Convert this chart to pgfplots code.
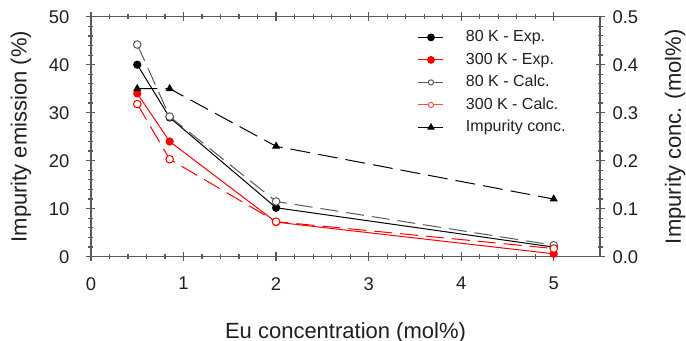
\documentclass[border=0pt]{standalone}
\usepackage{fontspec}
\setmainfont{Liberation Sans}
\usepackage{pgfplots}
\pgfplotsset{compat=1.18}
\definecolor{axgray}{gray}{0.35}
\definecolor{calcgray}{gray}{0.35}
\definecolor{txt}{gray}{0.12}
\begin{document}
\begin{tikzpicture}
\useasboundingbox (-45.5pt,-42.15pt) rectangle (297.5pt,128.35pt);
\pgfplotsset{
 common/.style={
  scale only axis, width=254.5pt, height=120pt,
  xmin=0, xmax=5.5,
  tick align=center, major tick length=4.5pt, minor tick length=2.5pt,
  axis line style={axgray, line width=0.55pt},
  tick style={draw=axgray, line width=0.6pt},
  tick label style={font=\fontsize{9.2}{10}\selectfont, text=txt},
  label style={font=\fontsize{11}{13}\selectfont, text=txt},
  /pgf/number format/assume math mode=true,
 }
}
\begin{axis}[common,
 ymin=0, ymax=50, ytick={0,10,20,30,40,50}, minor y tick num=4,
 xtick={0,1,2,3,4,5}, minor x tick num=4, ytick pos=left, xtick pos=both,
 xlabel={Eu concentration (mol\%)},
 ylabel={Impurity emission (\%)},
 xlabel style={at={(axis description cs:0.5,-0.339)}, anchor=base},
 ylabel style={at={(axis description cs:-0.1267,0.5)}, anchor=base},
 xticklabel style={yshift=-4.5pt}, yticklabel style={xshift=-5pt},
]
\addplot[black, line width=0.5pt, mark=*, mark size=1.8pt] coordinates {(0.5,40) (0.85,29) (2,10.2) (5,2)};
\addplot[red, line width=0.5pt, mark=*, mark size=1.8pt, mark options={fill=red}] coordinates {(0.5,34) (0.85,24) (2,7.2) (5,0.6)};
\addplot[calcgray, line width=0.5pt, dash pattern=on 9pt off 4pt, mark=*, mark size=1.9pt, mark options={solid, fill=white}] coordinates {(0.5,44.2) (0.85,29.2) (2,11.5) (5,2.4)};
\addplot[red, line width=0.5pt, dash pattern=on 9pt off 4pt, mark=*, mark size=1.9pt, mark options={solid, fill=white}] coordinates {(0.5,31.8) (0.85,20.3) (2,7.3) (5,1.7)};
\end{axis}
\begin{axis}[common,
 axis x line=none, axis y line*=right,
 ymin=0, ymax=0.5, ytick={0,0.1,0.2,0.3,0.4,0.5}, minor y tick num=4,
 yticklabel style={/pgf/number format/.cd, fixed, fixed zerofill, precision=1, /tikz/.cd, xshift=0.5pt},
 ylabel={Impurity conc. (mol\%)},
 ylabel style={at={(axis description cs:1.159,0.5)}, anchor=base},
 legend cell align=left,
 legend image code/.code={\draw[mark repeat=2,mark phase=2,#1] plot coordinates {(0pt,0pt) (6.25pt,0pt) (12.5pt,0pt)};},
 legend style={draw=none, fill=none, at={(rel axis cs:0.6424,0.945)}, anchor=north west, inner sep=0pt, outer sep=0pt, font=\fontsize{8}{9}\selectfont, text=txt, nodes={inner sep=0pt, text height=6pt, text depth=1.5pt}, row sep=3.75pt, column sep=11pt},
]
\addlegendimage{black, solid, line width=0.5pt, mark=*, mark size=1.7pt}
\addlegendentry{80 K - Exp.}
\addlegendimage{red, solid, line width=0.5pt, mark=*, mark size=1.7pt, mark options={fill=red}}
\addlegendentry{300 K - Exp.}
\addlegendimage{calcgray, solid, line width=0.5pt, mark=*, mark size=1.3pt, mark options={fill=white}}
\addlegendentry{80 K - Calc.}
\addlegendimage{red!70, solid, line width=0.5pt, mark=*, mark size=1.3pt, mark options={fill=white}}
\addlegendentry{300 K - Calc.}
\addlegendimage{black, solid, line width=0.5pt, mark=triangle*, mark size=1.7pt}
\addlegendentry{Impurity conc.}
\addplot[black, line width=0.5pt, dash pattern=on 10pt off 4pt, mark=triangle*, mark size=1.9pt, mark options={solid}, forget plot] coordinates {(0.5,0.35) (0.85,0.35) (2,0.23) (5,0.12)};
\end{axis}
\end{tikzpicture}
\end{document}
